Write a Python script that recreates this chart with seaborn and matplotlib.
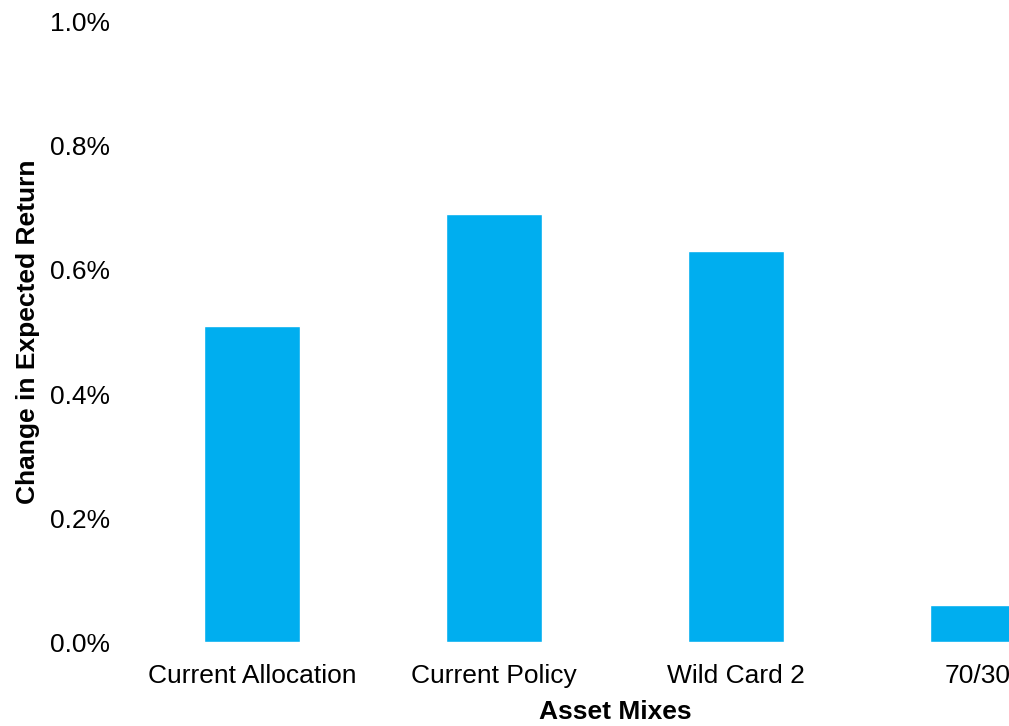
import pandas as pd
import matplotlib.pyplot as plt
import seaborn as sns
from matplotlib.ticker import FuncFormatter

# Chart data (change in expected return, in percent)
mixes = ["Current Allocation", "Current Policy", "Wild Card 2", "70/30"]
change = [0.51, 0.69, 0.63, 0.06]

df = pd.DataFrame({"mix": mixes, "change": change})

sns.set_style("white")
plt.rcParams['font.family'] = ['Liberation Sans', 'DejaVu Sans']
plt.rcParams['text.color'] = 'black'
plt.rcParams['axes.labelcolor'] = 'black'
plt.rcParams['xtick.color'] = 'black'
plt.rcParams['ytick.color'] = 'black'

fig = plt.figure(figsize=(10.09, 7.26), dpi=100)
ax = fig.add_axes([0.1298, 0.1157, 0.9594, 0.854])

sns.barplot(data=df, x="mix", y="change", color="#00AEEF", saturation=1,
            width=0.4, ax=ax)

ax.set_ylim(0, 1.0)
ax.set_yticks([0, 0.2, 0.4, 0.6, 0.8, 1.0])
ax.yaxis.set_major_formatter(FuncFormatter(lambda v, p: f"{v:.1f}%"))
ax.tick_params(axis='x', length=0, labelsize=19, pad=16)
ax.tick_params(axis='y', length=0, labelsize=19, pad=15)

ax.set_xlabel("Asset Mixes", fontsize=19, fontweight='bold')
ax.set_ylabel("Change in Expected Return", fontsize=19, fontweight='bold')
ax.xaxis.set_label_coords(0.5, -0.093)
ax.yaxis.set_label_coords(-0.094, 0.5)
sns.despine(ax=ax, left=True, bottom=True)

fig.savefig("out.png", dpi=100)
